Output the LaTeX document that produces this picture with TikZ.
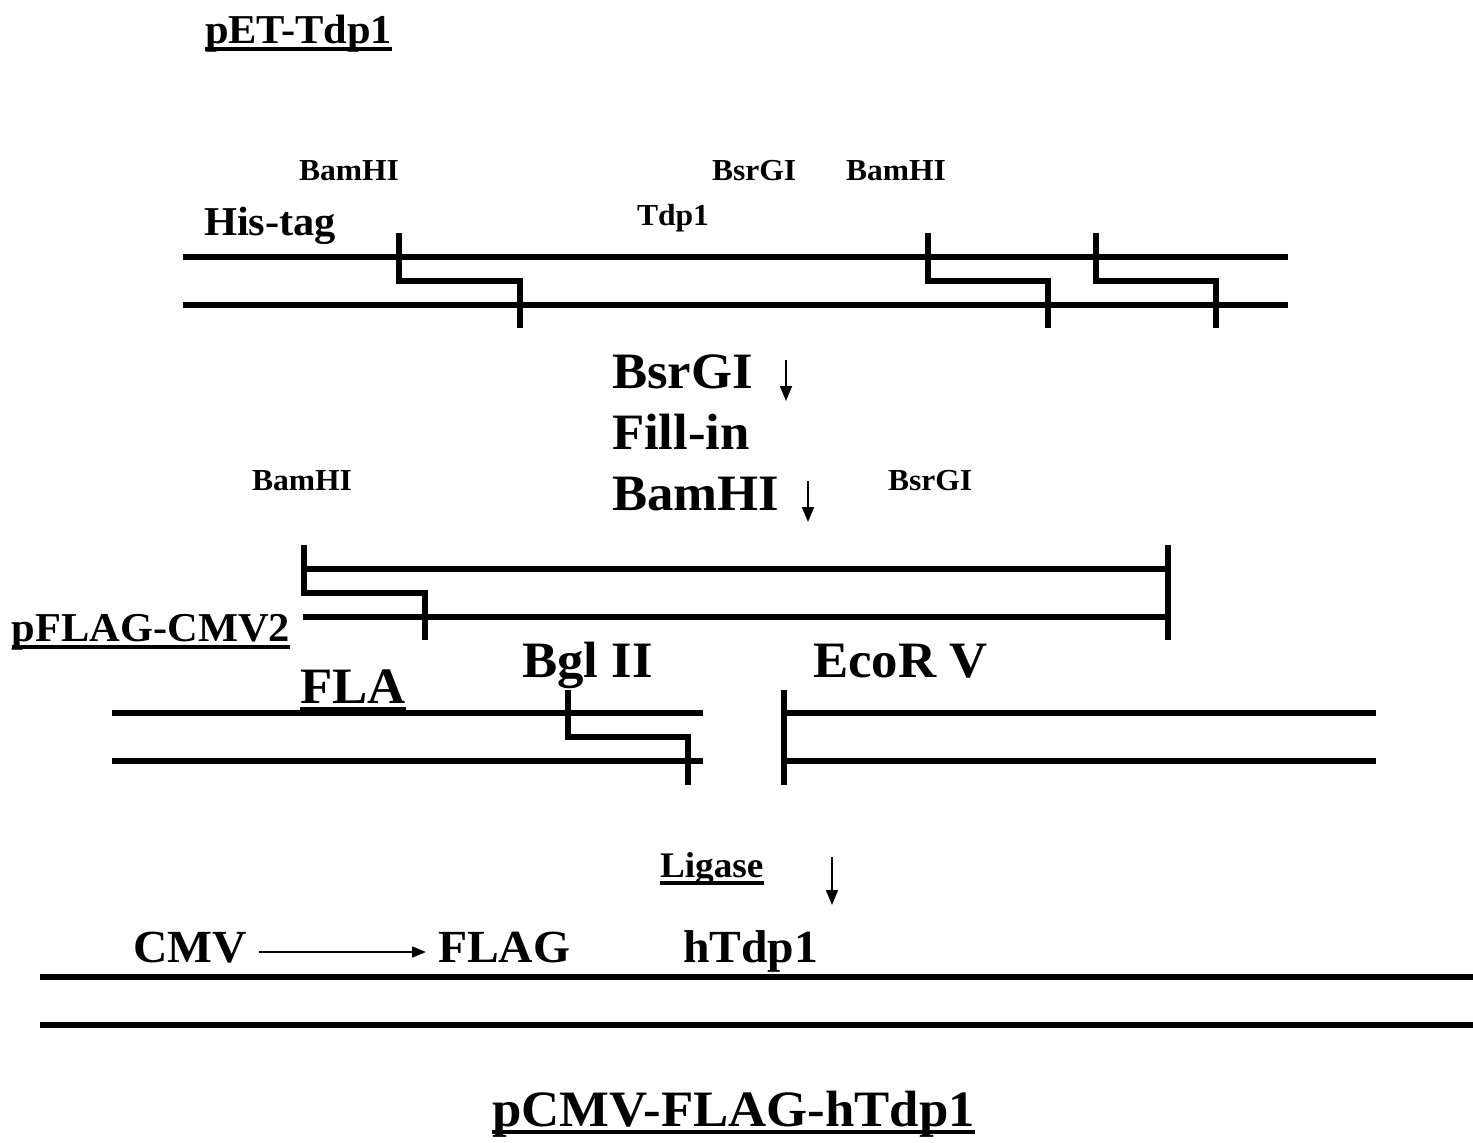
\documentclass[tikz,border=0pt]{standalone}
\usepackage{fontspec}
\setmainfont{Liberation Serif}
\usetikzlibrary{arrows.meta}
\newcommand{\fsz}[1]{\fontsize{#1}{#1}\selectfont\bfseries}
\newcommand{\wx}[1]{\scalebox{1.035}[1]{#1}}
\begin{document}
\begin{tikzpicture}[x=1pt,y=-1pt,
  dna/.style={line width=5.2pt,line cap=butt,line join=miter},
  lbl/.style={anchor=base west,inner sep=0pt,outer sep=0pt},
  sml/.style={lbl,font=\fsz{30.5}},
  med/.style={lbl,font=\fsz{41}},
  lig/.style={lbl,font=\fsz{36}},
  fin/.style={lbl,font=\fsz{46}},
  big/.style={lbl,font=\fsz{51}},
  ul/.style={line width=3.2pt},
  darr/.style={line width=1.8pt,-{Triangle[length=15pt,width=12pt]}}]
\useasboundingbox (0,0) rectangle (1473,1143);

% ---- pET-Tdp1 ----
\node[med] (pet) at (205,43) {\wx{pET-Tdp1}};
\draw[ul] ([yshift=-6pt]pet.base west) -- ([yshift=-6pt]pet.base east);
\node[sml] (b1) at (299,180) {\wx{BamHI}};
\node[sml] (s1) at (712,180) {\wx{BsrGI}};
\node[sml] (b2) at (846,180) {\wx{BamHI}};
\node[med] (his) at (204,235) {\wx{His-tag}};
\node[sml] (tdp) at (637,225) {\wx{Tdp1}};

\draw[dna] (183,257) -- (1288,257);
\draw[dna] (183,305) -- (1288,305);
\draw[dna] (399,233) -- (399,281) -- (520,281) -- (520,328);
\draw[dna] (928,233) -- (928,281) -- (1048,281) -- (1048,328);
\draw[dna] (1096,233) -- (1096,281) -- (1216,281) -- (1216,328);

% ---- steps ----
\node[big] (st1) at (612,388) {\wx{BsrGI}};
\node[big] (st2) at (612,449) {\wx{Fill-in}};
\node[big] (st3) at (612,510) {\wx{BamHI}};
\coordinate (a1s) at (786,360);
\coordinate (a1e) at (786,401);
\draw[darr] (a1s) -- (a1e);
\coordinate (a2s) at (808,481);
\coordinate (a2e) at (808,522);
\draw[darr] (a2s) -- (a2e);

% ---- fragment ----
\node[sml] (b3) at (252,490) {\wx{BamHI}};
\node[sml] (s2) at (888,490) {\wx{BsrGI}};
\draw[dna] (303,569) -- (1168,569);
\draw[dna] (303,617) -- (1168,617);
\draw[dna] (304,545) -- (304,593) -- (425,593) -- (425,640);
\draw[dna] (1168,545) -- (1168,640);

% ---- pFLAG-CMV2 ----
\node[med] (pfl) at (12,641) {\wx{pFLAG-CMV2}};
\draw[ul] ([yshift=-6pt]pfl.base west) -- ([yshift=-6pt]pfl.base east);
\node[big] (fla) at (300,703) {\wx{FLA}};
\draw[ul] ([yshift=-6pt]fla.base west) -- ([yshift=-6pt]fla.base east);
\node[big] (bgl) at (522,677) {\wx{Bgl II}};
\node[big] (eco) at (813,677) {\wx{EcoR V}};
\draw[dna] (112,713) -- (703,713);
\draw[dna] (112,761) -- (703,761);
\draw[dna] (568,690) -- (568,737) -- (688,737) -- (688,785);
\draw[dna] (784,713) -- (1376,713);
\draw[dna] (784,761) -- (1376,761);
\draw[dna] (784,690) -- (784,785);

% ---- ligase ----
\node[lig] (lg) at (660,877) {\wx{Ligase}};
\draw[ul] ([yshift=-6pt]lg.base west) -- ([yshift=-6pt]lg.base east);
\coordinate (a3s) at (832,857);
\coordinate (a3e) at (832,905);
\draw[darr] (a3s) -- (a3e);

% ---- product ----
\node[fin] (cmv) at (133,962) {\wx{CMV}};
\node[fin] (flag) at (438,962) {\wx{FLAG}};
\node[fin] (htd) at (683,962) {\wx{hTdp1}};
\draw[line width=1.8pt,-{Triangle[length=14pt,width=11pt]}] ([xshift=12pt,yshift=10pt]cmv.base east) -- ([xshift=-12pt,yshift=10pt]flag.base west);
\draw[dna] (40,977) -- (1473,977);
\draw[dna] (40,1025) -- (1473,1025);

\node[big] (ttl) at (492,1126) {\wx{pCMV-FLAG-hTdp1}};
\draw[ul] ([yshift=-6pt]ttl.base west) -- ([yshift=-6pt]ttl.base east);
\end{tikzpicture}
\end{document}
